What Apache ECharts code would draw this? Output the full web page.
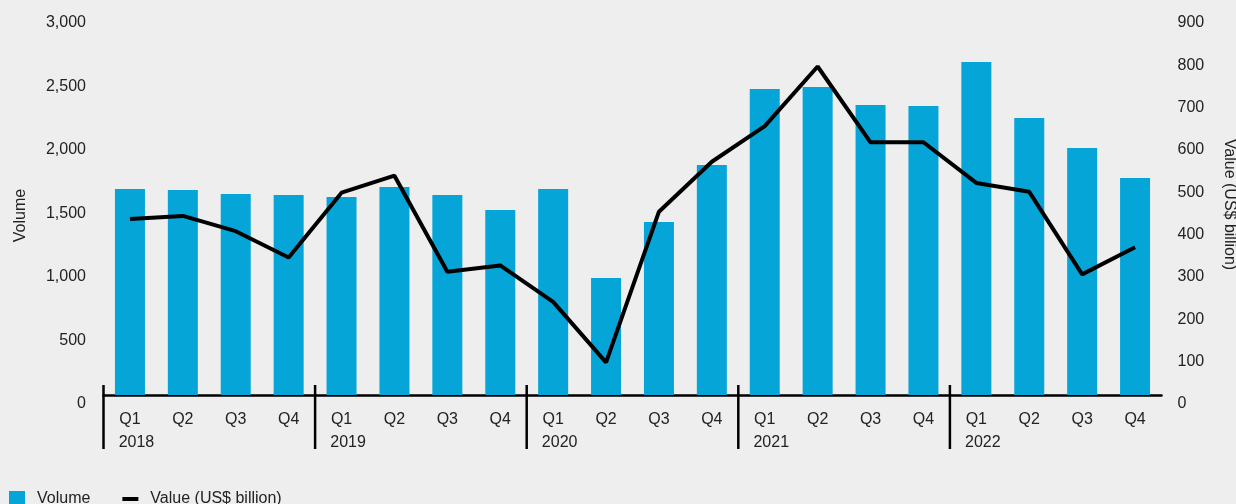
<!DOCTYPE html>
<html>
<head>
<meta charset="utf-8">
<script src="https://cdn.jsdelivr.net/npm/echarts@6/dist/echarts.min.js"></script>
<style>
  html, body { margin: 0; padding: 0; background: #eeeeee; }
  #container { width: 1236px; height: 504px; }
</style>
</head>
<body>
<div id="container"></div>
<script>
var years = ['2018', '2019', '2020', '2021', '2022']
var quarters = ['Q1', 'Q2', 'Q3', 'Q4']

// volume (left axis)
var volume = [1622, 1614, 1583, 1575, 1559, 1638, 1575, 1457,
              1622, 921, 1362, 1811, 2409, 2425, 2283, 2276,
              2622, 2181, 1945, 1709]
// value in US$ billion (right axis)
var value = [416, 423, 387, 325, 478, 518, 291, 306,
             220, 77, 433, 551, 635, 776, 597, 597,
             501, 480, 285, 349]

var volumeTicks = { min: 0, max: 3000, interval: 500 }
var valueTicks = { min: 0, max: 900, interval: 100 }

var categories = []
var yearStarts = []
for (var y = 0; y < years.length; y++) {
    yearStarts.push([categories.length, 0])
    for (var q = 0; q < quarters.length; q++) {
        categories.push(quarters[q])
    }
}

var font = 'Arial, "Liberation Sans", sans-serif'
var textColor = '#222222'

var myChart = echarts.init(document.getElementById('container'))
myChart.setOption({
    backgroundColor: '#eeeeee',
    animation: false,
    textStyle: { fontFamily: font },
    grid: { left: 103.5, right: 74.5, top: 14, bottom: 109, containLabel: false, outerBoundsMode: 'none' },
    legend: {
        left: 4,
        top: 486,
        itemWidth: 16,
        itemHeight: 16,
        itemGap: 32,
        textStyle: { fontSize: 16, color: textColor, fontFamily: font, padding: [0, 0, 0, 7] },
        data: [
            { name: 'Volume', icon: 'rect' },
            { name: 'Value (US$ billion)', icon: 'path://M0,0M0,6h16v4h-16zM16,16' }
        ]
    },
    xAxis: [
        {
            type: 'category',
            position: 'bottom',
            data: categories,
            axisLine: { show: true, lineStyle: { color: '#000', width: 2.5 } },
            axisTick: { show: false },
            axisLabel: { fontSize: 16, color: textColor, margin: 17, interval: 0 }
        },
        {
            type: 'category',
            position: 'bottom',
            data: categories,
            axisLine: { show: false },
            axisTick: { show: false },
            axisLabel: {
                fontSize: 16, color: textColor, margin: 40, interval: 0,
                padding: [0, 0, 0, 13],
                formatter: function (v, i) {
                    return i % 4 === 0 ? years[i / 4] : ''
                }
            }
        }
    ],
    yAxis: [
        {
            type: 'value',
            min: volumeTicks.min, max: volumeTicks.max, interval: volumeTicks.interval,
            name: 'Volume',
            nameLocation: 'middle',
            nameGap: 75,
            nameMoveOverlap: false,
            nameTextStyle: { fontSize: 16, color: textColor, padding: [0, 22, 0, 0] },
            axisLine: { show: false },
            axisTick: { show: false },
            splitLine: { show: false },
            axisLabel: {
                fontSize: 16, color: textColor, margin: 17.5,
                verticalAlign: 'top', lineHeight: 18,
                formatter: function (v) { return v.toLocaleString('en-US') }
            }
        },
        {
            type: 'value',
            position: 'right',
            min: valueTicks.min, max: valueTicks.max, interval: valueTicks.interval,
            name: 'Value (US$ billion)',
            nameLocation: 'middle',
            nameRotate: -90,
            nameGap: 60,
            nameMoveOverlap: false,
            nameTextStyle: { fontSize: 16, color: textColor },
            axisLine: { show: false },
            axisTick: { show: false },
            splitLine: { show: false },
            axisLabel: {
                fontSize: 16, color: textColor, margin: 16,
                verticalAlign: 'top', lineHeight: 18
            }
        }
    ],
    series: [
        {
            name: 'Volume',
            type: 'bar',
            data: volume,
            barWidth: 30,
            itemStyle: { color: '#05a5d8' }
        },
        {
            name: 'Value (US$ billion)',
            type: 'line',
            yAxisIndex: 1,
            data: value,
            symbol: 'none',
            itemStyle: { color: '#000' },
            lineStyle: { color: '#000', width: 4 },
            z: 3
        },
        {
            // year separators, drawn at the left edge of each Q1
            type: 'custom',
            data: yearStarts,
            encode: { x: 0, y: 1 },
            z: 4,
            renderItem: function (params, api) {
                var p = api.coord([api.value(0), 0])
                var half = api.size([1, 0])[0] / 2
                var x = p[0] - half
                return {
                    type: 'line',
                    shape: { x1: x, y1: p[1] - 10, x2: x, y2: p[1] + 54 },
                    style: { stroke: '#000', lineWidth: 2.5 }
                }
            }
        }
    ]
})
</script>
</body>
</html>
